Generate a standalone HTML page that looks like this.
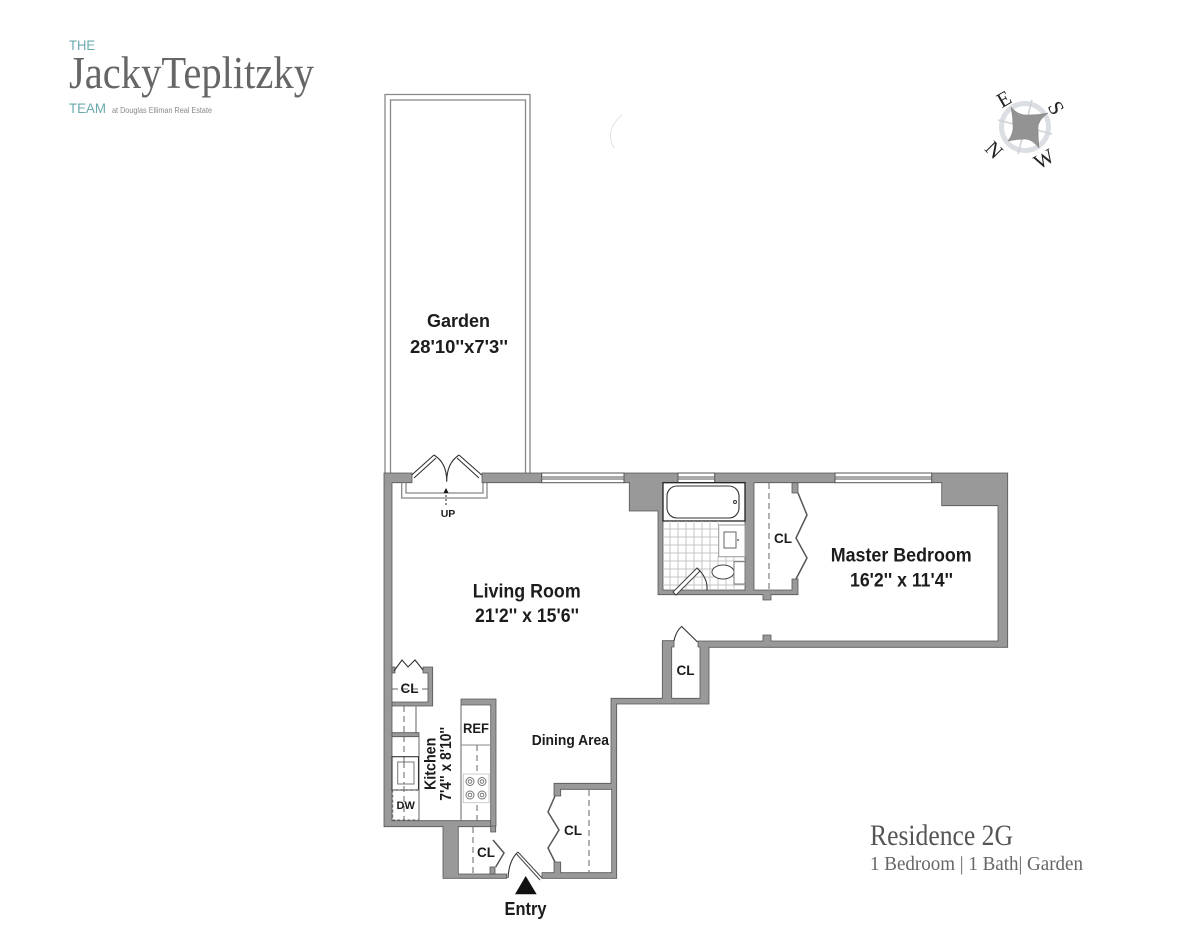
<!DOCTYPE html>
<html>
<head>
<meta charset="utf-8">
<style>
html,body{margin:0;padding:0;background:#fff;width:1200px;height:952px;overflow:hidden}
svg{display:block}
text{font-family:"Liberation Sans",sans-serif}
.b{font-weight:bold;fill:#1c1c1c}
.s{font-family:"Liberation Serif",serif}
.w{fill:#999;stroke:#555;stroke-width:.8}
.l{fill:none;stroke:#333;stroke-width:1.1}
.g{fill:none;stroke:#888;stroke-width:1.3}
.d{fill:none;stroke:#666;stroke-width:1;stroke-dasharray:6 4}
.t{stroke:#c4c4c4;stroke-width:1}
.win{fill:#fff;stroke:#555;stroke-width:1}
</style>
</head>
<body>
<svg width="1200" height="952" viewBox="0 0 1200 952" xmlns="http://www.w3.org/2000/svg">
<rect width="1200" height="952" fill="#fff"/>

<!-- logo -->
<text x="69" y="50" font-size="14" fill="#6aa9ad" textLength="26" lengthAdjust="spacingAndGlyphs">THE</text>
<text class="s" x="69" y="88" font-size="46" fill="#666" textLength="245" lengthAdjust="spacingAndGlyphs">JackyTeplitzky</text>
<text x="69" y="113" font-size="14" fill="#6aa9ad" textLength="37" lengthAdjust="spacingAndGlyphs">TEAM</text>
<text x="112" y="113" font-size="8" fill="#888" textLength="100" lengthAdjust="spacingAndGlyphs">at Douglas Elliman Real Estate</text>

<!-- faint arc -->
<path d="M622 115 Q604 130 614 148" fill="none" stroke="#e2e2e2" stroke-width="1"/>

<!-- compass -->
<g transform="translate(1025 127)">
 <circle r="23.5" fill="none" stroke="#dbdee2" stroke-width="5"/>
 <g stroke="#cfd2d6" stroke-width="1.5">
  <line x1="-27" y1="-7" x2="27" y2="7"/>
  <line x1="7" y1="-27" x2="-7" y2="27"/>
 </g>
 <path d="M-14 -20 Q-7 -11 4 -12 Q14 -12 23 -14 Q12 -6 13 2 Q13 10 14 21 Q7 12 0 12 Q-8 12 -17 14 Q-11 6 -12 -2 Q-12 -10 -14 -20Z" fill="#939393" stroke="#7c7c7c" stroke-width=".5"/>
 <text class="s" font-size="21" fill="#222" text-anchor="middle" dy=".33em" transform="translate(-21 -28) rotate(-30)">E</text>
 <text class="s" font-size="21" fill="#222" text-anchor="middle" dy=".33em" transform="translate(31 -19) rotate(60)">S</text>
 <text class="s" font-size="21" fill="#222" text-anchor="middle" dy=".33em" transform="translate(19 32) rotate(-30)">W</text>
 <text class="s" font-size="21" fill="#222" text-anchor="middle" dy=".33em" transform="translate(-31 23) rotate(45)">N</text>
</g>

<!-- garden -->
<path class="g" d="M385 473V94.500H530V473"/>
<path class="g" d="M390.500 473V100H525.500V473"/>

<!-- main walls -->
<path class="w" d="M384 473H412V482.700H392V820.700H495.700V832H490.700V826.700H458.300V874H506.700V878.300H443V826.700H384Z"/>
<path class="w" d="M482 473H541.700V482.700H482Z"/>
<path class="w" d="M624 473H678V482.700H663V590H745V482.700H714.700V473H835V482.700H754V590H792V579H798V594.700H771V600H763V594.700H658V511H629.300V482.700H624Z"/>
<path class="w" d="M931.700 473H1007.700V647.300H709V704H616.700V878.300H542V872.700H554V862H560.700V872.700H611.700V789.300H560.700V796H554V783.300H611V704H611V698.300H662.300V640.700H674V647H671.700V698.300H700V647H698V641H763V635H771V641H998V505.700H941.700V482.700H931.700Z"/>
<path class="w" d="M792 482.700H798V493H792Z"/>
<path class="w" d="M461 699H496V826H490.700V705H461Z"/>

<!-- windows -->
<rect class="win" x="541.700" y="473" width="82.300" height="4"/><rect class="win" x="541.700" y="479" width="82.300" height="3.700"/>
<rect class="win" x="678" y="473" width="36.700" height="4"/><rect class="win" x="678" y="479" width="36.700" height="3.700"/>
<rect class="win" x="835" y="473" width="96.700" height="4"/><rect class="win" x="835" y="479" width="96.700" height="3.700"/>

<!-- garden doors -->
<path d="M411.700 475L434 455M414 478L436 458" class="l"/>
<path d="M481.700 475L459 455M479 478L457 458" class="l"/>
<path class="l" d="M434 455Q447 463 446.700 481.700Q446.700 463 459 455"/>
<path class="g" d="M401.700 482.700V498H487V482.700M406 482.700V493H483V482.700"/>
<line x1="446" y1="491" x2="446" y2="507" stroke="#222" stroke-width="1" stroke-dasharray="2 2"/>
<path d="M446 488L443.500 493H448.500Z" fill="#111"/>
<text class="b" x="448" y="517" font-size="10.500" text-anchor="middle">UP</text>

<!-- bathroom -->
<rect x="663" y="482.700" width="82" height="38.300" fill="#fff" stroke="#222" stroke-width="1.300"/>
<rect x="667" y="486" width="72" height="32" rx="10" fill="#fff" stroke="#333" stroke-width="1.100"/>
<circle cx="735" cy="502" r="1.500" fill="#fff" stroke="#333"/>
<g class="t">
<line x1="670" y1="521" x2="670" y2="590"/><line x1="678" y1="521" x2="678" y2="590"/><line x1="686" y1="521" x2="686" y2="590"/><line x1="694" y1="521" x2="694" y2="590"/><line x1="702" y1="521" x2="702" y2="590"/><line x1="710" y1="521" x2="710" y2="590"/><line x1="718" y1="556" x2="718" y2="590"/><line x1="718" y1="521" x2="718" y2="525"/><line x1="726" y1="556" x2="726" y2="590"/><line x1="734" y1="556" x2="734" y2="590"/>
<line x1="663" y1="529" x2="719" y2="529"/><line x1="663" y1="537" x2="719" y2="537"/><line x1="663" y1="545" x2="719" y2="545"/><line x1="663" y1="553" x2="719" y2="553"/><line x1="663" y1="561" x2="745" y2="561"/><line x1="663" y1="569" x2="745" y2="569"/><line x1="663" y1="577" x2="745" y2="577"/><line x1="663" y1="585" x2="745" y2="585"/>
</g>
<rect x="718.700" y="525" width="26.300" height="31.700" fill="#fff" stroke="#999" stroke-width="1"/>
<rect x="724" y="532" width="12" height="16" fill="#fff" stroke="#666" stroke-width="1"/>
<circle cx="738" cy="540" r="1" fill="#666"/>
<ellipse cx="723" cy="572" rx="11" ry="7" fill="#fff" stroke="#444" stroke-width="1"/>
<rect x="734" y="561.700" width="11" height="22.300" fill="#fff" stroke="#777" stroke-width="1"/>
<path d="M673 592L697 568L700 571L676 595Z" fill="#fff" stroke="#444" stroke-width="1"/>
<path class="l" d="M697 568Q708 578 707 590"/>

<!-- bedroom closet -->
<line class="d" x1="769" y1="483" x2="769" y2="589"/>
<path d="M798 493L807 515L796 538L807 558L796 579" fill="none" stroke="#555" stroke-width="1.500"/>

<!-- mid closet door -->
<path class="l" d="M674 641Q676 631 681.700 626.500L697.500 642"/>

<!-- upper left closet -->
<path class="w" d="M392 667H395V673H392Z"/>
<path class="w" d="M423 667H432.700V706H392V702H428V673H423Z"/>
<path class="l" d="M394 671L402 660L408 667L415 660L423 670"/>
<line class="d" x1="392" y1="689" x2="428" y2="689"/>

<!-- kitchen left -->
<path class="g" d="M416 706V733"/>
<path class="w" d="M392 732.700H419V736.700H392Z"/>
<line x1="419" y1="736" x2="419" y2="821" stroke="#666" stroke-width="1"/>
<line class="d" x1="404" y1="706" x2="404" y2="820"/>
<rect x="392" y="756.700" width="26.500" height="33.300" fill="none" stroke="#333" stroke-width="1.100"/>
<rect x="397.700" y="762" width="16.300" height="22" fill="#fff" stroke="#777" stroke-width="1"/>
<line class="d" x1="404" y1="762" x2="404" y2="784"/>
<rect x="392.700" y="790" width="26.300" height="30" fill="none" stroke="#666" stroke-width="1" stroke-dasharray="3 2"/>

<!-- kitchen right -->
<line x1="461" y1="705" x2="461" y2="821" stroke="#666" stroke-width="1"/>
<line x1="461" y1="745" x2="491" y2="745" stroke="#888" stroke-width="1"/>
<line class="d" x1="477" y1="745" x2="477" y2="821"/>
<rect x="463.300" y="774" width="25.700" height="28.700" fill="#fff" stroke="#ccc" stroke-width="1"/>
<g fill="none" stroke="#777" stroke-width="1">
<circle cx="470" cy="781.500" r="4"/><circle cx="470" cy="781.500" r="1.800"/>
<circle cx="482" cy="781.500" r="4"/><circle cx="482" cy="781.500" r="1.800"/>
<circle cx="470" cy="795" r="4"/><circle cx="470" cy="795" r="1.800"/>
<circle cx="482" cy="795" r="4"/><circle cx="482" cy="795" r="1.800"/>
</g>

<!-- entry closet -->
<line class="d" x1="473" y1="827" x2="473" y2="873"/>
<rect class="w" x="490" y="867" width="5" height="7"/>
<path d="M493 840L504 853L495.700 867" fill="none" stroke="#555" stroke-width="1.500"/>

<!-- entry door -->
<path d="M518 852L542 878M516.500 854L540 880" fill="none" stroke="#444" stroke-width="1"/>
<path class="l" d="M518 852Q509 860 508 878"/>
<path d="M525.700 876L536.700 894.300H515Z" fill="#111"/>

<!-- lower right closet -->
<path d="M555 796L548 812L559 830L548 848L555 862" fill="none" stroke="#555" stroke-width="1.500"/>
<line class="d" x1="589" y1="790" x2="589" y2="872"/>

<!-- labels -->
<text class="b" x="427" y="327" font-size="18.500" textLength="63" lengthAdjust="spacingAndGlyphs">Garden</text>
<text class="b" x="410" y="353" font-size="18.500" textLength="98" lengthAdjust="spacingAndGlyphs">28'10''x7'3''</text>
<text class="b" x="472.700" y="597.700" font-size="19" textLength="108" lengthAdjust="spacingAndGlyphs">Living Room</text>
<text class="b" x="475" y="622" font-size="19" textLength="104" lengthAdjust="spacingAndGlyphs">21'2'' x 15'6''</text>
<text class="b" x="830.700" y="561.700" font-size="19" textLength="141" lengthAdjust="spacingAndGlyphs">Master Bedroom</text>
<text class="b" x="850" y="586.700" font-size="19" textLength="103" lengthAdjust="spacingAndGlyphs">16'2'' x 11'4''</text>
<text class="b" x="774" y="543" font-size="13.500">CL</text>
<text class="b" x="676.500" y="675" font-size="13.500">CL</text>
<text class="b" x="400.500" y="693" font-size="13.500">CL</text>
<text class="b" x="564" y="835" font-size="13.500">CL</text>
<text class="b" x="477" y="857" font-size="13.500">CL</text>
<text class="b" x="463" y="733" font-size="14" textLength="26" lengthAdjust="spacingAndGlyphs">REF</text>
<text class="b" x="405.700" y="809" font-size="11" text-anchor="middle">DW</text>
<text class="b" x="531.700" y="745" font-size="15" textLength="77.300" lengthAdjust="spacingAndGlyphs">Dining Area</text>
<text class="b" font-size="16" transform="translate(435.700 790) rotate(-90)" textLength="52.300" lengthAdjust="spacingAndGlyphs">Kitchen</text>
<text class="b" font-size="16" transform="translate(451 800.700) rotate(-90)" textLength="73.700" lengthAdjust="spacingAndGlyphs">7'4'' x 8'10''</text>
<text class="b" x="504.500" y="915" font-size="18" textLength="42" lengthAdjust="spacingAndGlyphs">Entry</text>

<!-- residence -->
<text class="s" x="870" y="845" font-size="30" fill="#555" textLength="143" lengthAdjust="spacingAndGlyphs">Residence 2G</text>
<text class="s" x="870" y="870" font-size="20" fill="#666" textLength="213" lengthAdjust="spacingAndGlyphs">1 Bedroom | 1 Bath| Garden</text>
</svg>
</body>
</html>
